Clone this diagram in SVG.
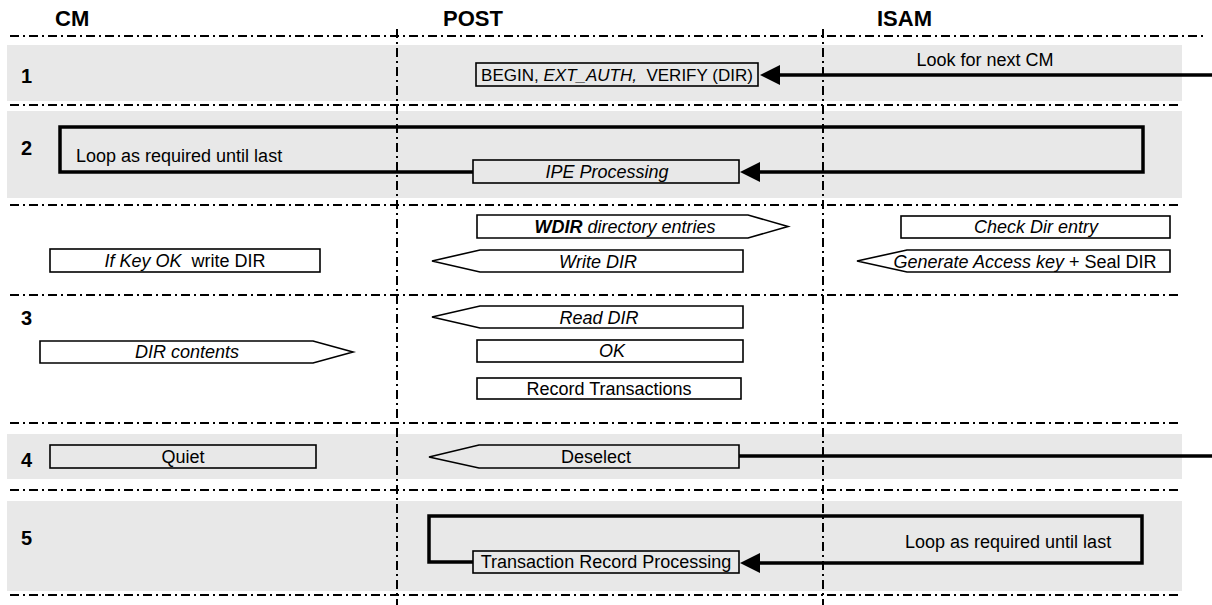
<svg xmlns="http://www.w3.org/2000/svg" width="1212" height="605" viewBox="0 0 1212 605">
<defs>
<style>
.band{fill:#e8e8e8;stroke:none}
.sep{stroke:#000;stroke-width:2;stroke-dasharray:9 4 2 4;fill:none}
.hdr{font-family:"Liberation Sans",Arial,sans-serif;font-weight:bold;font-size:22px;fill:#000}
.num{font-family:"Liberation Sans",Arial,sans-serif;font-weight:bold;font-size:20px;fill:#000}
.t{font-family:"Liberation Sans",Arial,sans-serif;font-size:18px;fill:#000}
.i{font-style:italic}
.b{font-weight:bold}
.box{stroke:#000;stroke-width:1.6;fill:#fff}
.gbox{stroke:#000;stroke-width:1.6;fill:#e8e8e8}
.conn{stroke:#000;stroke-width:3.5;fill:none}
</style>
<marker id="ah" viewBox="0 0 20 20" refX="15" refY="10" markerWidth="20" markerHeight="20" markerUnits="userSpaceOnUse" orient="auto">
<path d="M0,0 L20,10 L0,20 Z" fill="#000"/>
</marker>
</defs>
<rect width="1212" height="605" fill="#fff"/>
<g id="bands">
<rect class="band" x="7" y="45" width="1175" height="56"/>
<rect class="band" x="7" y="111" width="1175" height="87"/>
<rect class="band" x="7" y="434" width="1175" height="45"/>
<rect class="band" x="7" y="501" width="1175" height="90"/>
</g>
<g id="grid">
<line class="sep" x1="10" y1="36" x2="1203" y2="36"/>
<line class="sep" x1="10" y1="105" x2="1182" y2="105"/>
<line class="sep" x1="10" y1="205" x2="1182" y2="205"/>
<line class="sep" x1="10" y1="295" x2="1182" y2="295"/>
<line class="sep" x1="10" y1="423" x2="1182" y2="423"/>
<line class="sep" x1="10" y1="490" x2="1182" y2="490"/>
<line class="sep" x1="10" y1="595" x2="1182" y2="595"/>
<line class="sep" x1="397" y1="29" x2="397" y2="605"/>
<line class="sep" x1="823" y1="29" x2="823" y2="605"/>
</g>
<g id="headers">
<text class="hdr" x="55" y="26">CM</text>
<text class="hdr" x="443" y="26">POST</text>
<text class="hdr" x="877" y="26">ISAM</text>
<text class="num" x="21" y="83">1</text>
<text class="num" x="21" y="155">2</text>
<text class="num" x="21" y="325">3</text>
<text class="num" x="21" y="467">4</text>
<text class="num" x="21" y="545">5</text>
</g>
<g id="connectors">
<path class="conn" d="M1212,75 L765,75" marker-end="url(#ah)"/>
<path class="conn" d="M473,172 L60,172 L60,127 L1143,127 L1143,172 L745,172" marker-end="url(#ah)"/>
<path class="conn" d="M739,456 L1212,456"/>
<path class="conn" d="M473,562 L429,562 L429,516 L1142,516 L1142,563 L745,563" marker-end="url(#ah)"/>
</g>
<g id="look-label">
<text class="t" x="985" y="66" text-anchor="middle">Look for next CM</text>
</g>
<g id="loop-label-2">
<text class="t" x="76" y="162">Loop as required until last</text>
</g>
<g id="begin">
<rect class="gbox" x="476" y="63" width="282" height="23"/>
<text class="t" x="617" y="81" text-anchor="middle" style="font-size:17px" xml:space="preserve">BEGIN, <tspan class="i">EXT_AUTH,</tspan>  VERIFY (DIR)</text>
</g>
<g id="ipe">
<rect class="gbox" x="473" y="160" width="266" height="23"/>
<text class="t i" x="607" y="178" text-anchor="middle">IPE Processing</text>
</g>
<g id="wdir">
<path class="box" d="M477,215 L748,215 L788,226.5 L748,238 L477,238 Z"/>
<text class="t i" x="625" y="233" text-anchor="middle"><tspan class="b">WDIR</tspan> directory entries</text>
</g>
<g id="check-dir">
<rect class="box" x="901" y="216" width="269" height="22"/>
<text class="t i" x="1036" y="233" text-anchor="middle">Check Dir entry</text>
</g>
<g id="write-dir">
<path class="box" d="M432,261 L480,250 L743,250 L743,272 L480,272 Z"/>
<text class="t i" x="598" y="268" text-anchor="middle">Write DIR</text>
</g>
<g id="generate">
<path class="box" d="M857,261 L907,250 L1170,250 L1170,272 L907,272 Z"/>
<text class="t" x="1025" y="268" text-anchor="middle"><tspan class="i">Generate Access key</tspan> + Seal DIR</text>
</g>
<g id="if-key">
<rect class="box" x="50" y="249" width="270" height="23"/>
<text class="t" x="185" y="267" text-anchor="middle" xml:space="preserve"><tspan class="i">If Key OK</tspan>  write DIR</text>
</g>
<g id="read-dir">
<path class="box" d="M432,317 L480,306 L743,306 L743,328 L480,328 Z"/>
<text class="t i" x="599" y="324" text-anchor="middle">Read DIR</text>
</g>
<g id="ok">
<rect class="box" x="477" y="340" width="266" height="22"/>
<text class="t i" x="612" y="357" text-anchor="middle">OK</text>
</g>
<g id="dir-contents">
<path class="box" d="M40,341 L313,341 L353,352 L313,363 L40,363 Z"/>
<text class="t i" x="187" y="358" text-anchor="middle">DIR contents</text>
</g>
<g id="record">
<rect class="box" x="477" y="378" width="264" height="21"/>
<text class="t" x="609" y="395" text-anchor="middle">Record Transactions</text>
</g>
<g id="quiet">
<rect class="gbox" x="50" y="445" width="266" height="23"/>
<text class="t" x="183" y="463" text-anchor="middle">Quiet</text>
</g>
<g id="deselect">
<path class="gbox" d="M429,457 L479,445 L739,445 L739,468 L479,468 Z"/>
<text class="t" x="596" y="463" text-anchor="middle">Deselect</text>
</g>
<g id="loop-label-5">
<text class="t" x="905" y="548">Loop as required until last</text>
</g>
<g id="trp">
<rect class="gbox" x="473" y="551" width="266" height="22"/>
<text class="t" x="606" y="568" text-anchor="middle">Transaction Record Processing</text>
</g>
</svg>
